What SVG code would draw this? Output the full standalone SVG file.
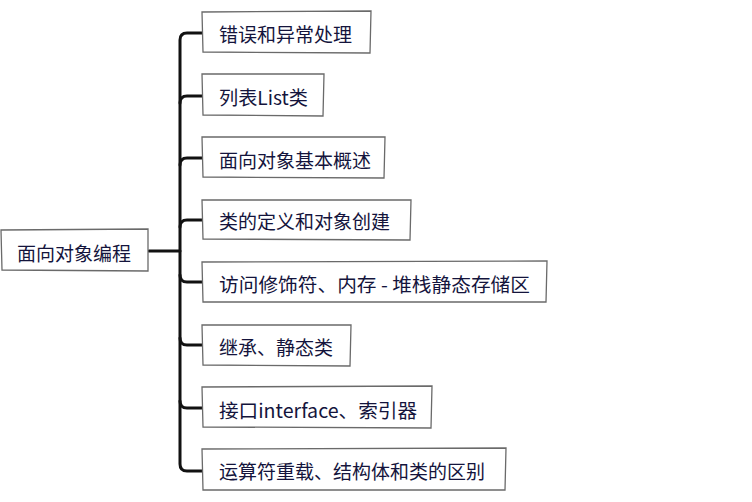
<svg xmlns="http://www.w3.org/2000/svg" width="752" height="502" viewBox="0 0 752 502">
<style>
.box{fill:#fff;stroke:#6a6a6a;stroke-width:1.3}
.t{font-family:"Microsoft YaHei","Noto Sans CJK SC","Noto Sans",sans-serif;font-size:19px;fill:#14143c;dominant-baseline:central}
.c{fill:none;stroke:#111;stroke-width:3;stroke-linecap:round;stroke-linejoin:round}
</style>
<rect width="752" height="502" fill="#fff"/>
<g id="connectors">
<path class="c" d="M149 251 H180"/>
<path class="c" d="M202 33 H187 Q180 33 180 40 V464 Q180 471 187 471 H202"/>
<path class="c" d="M202 96 H187 Q180 96 180 103"/>
<path class="c" d="M202 158 H187 Q180 158 180 165"/>
<path class="c" d="M202 220 H187 Q180 220 180 227"/>
<path class="c" d="M202 282 H187 Q180 282 180 275"/>
<path class="c" d="M202 345 H187 Q180 345 180 338"/>
<path class="c" d="M202 408 H187 Q180 408 180 401"/>
</g>
<g id="root">
<path class="box" d="M1 230 L148 229 L148 271 L2 270 Z"/>
<text class="t" x="17" y="252">面向对象编程</text>
</g>
<g id="n1">
<path class="box" d="M202 12 L371 11 L370 53 L203 52 Z"/>
<text class="t" x="219" y="33">错误和异常处理</text>
</g>
<g id="n2">
<path class="box" d="M202 74 L324 74 L323 116 L203 115 Z"/>
<text class="t" x="219" y="96" textLength="89" lengthAdjust="spacingAndGlyphs">列表List类</text>
</g>
<g id="n3">
<path class="box" d="M202 137 L385 137 L384 178 L203 177 Z"/>
<text class="t" x="219" y="159">面向对象基本概述</text>
</g>
<g id="n4">
<path class="box" d="M202 200 L411 200 L410 240 L203 239 Z"/>
<text class="t" x="219" y="220">类的定义和对象创建</text>
</g>
<g id="n5">
<path class="box" d="M202 262 L547 261 L546 302 L203 302 Z"/>
<text class="t" x="219" y="283" textLength="311" lengthAdjust="spacingAndGlyphs">访问修饰符、内存 - 堆栈静态存储区</text>
</g>
<g id="n6">
<path class="box" d="M202 325 L351 325 L350 366 L203 365 Z"/>
<text class="t" x="219" y="346">继承、静态类</text>
</g>
<g id="n7">
<path class="box" d="M202 387 L432 386 L431 428 L203 427 Z"/>
<text class="t" x="219" y="409" textLength="198" lengthAdjust="spacingAndGlyphs">接口interface、索引器</text>
</g>
<g id="n8">
<path class="box" d="M202 449 L506 448 L505 490 L203 490 Z"/>
<text class="t" x="219" y="470">运算符重载、结构体和类的区别</text>
</g>
</svg>
